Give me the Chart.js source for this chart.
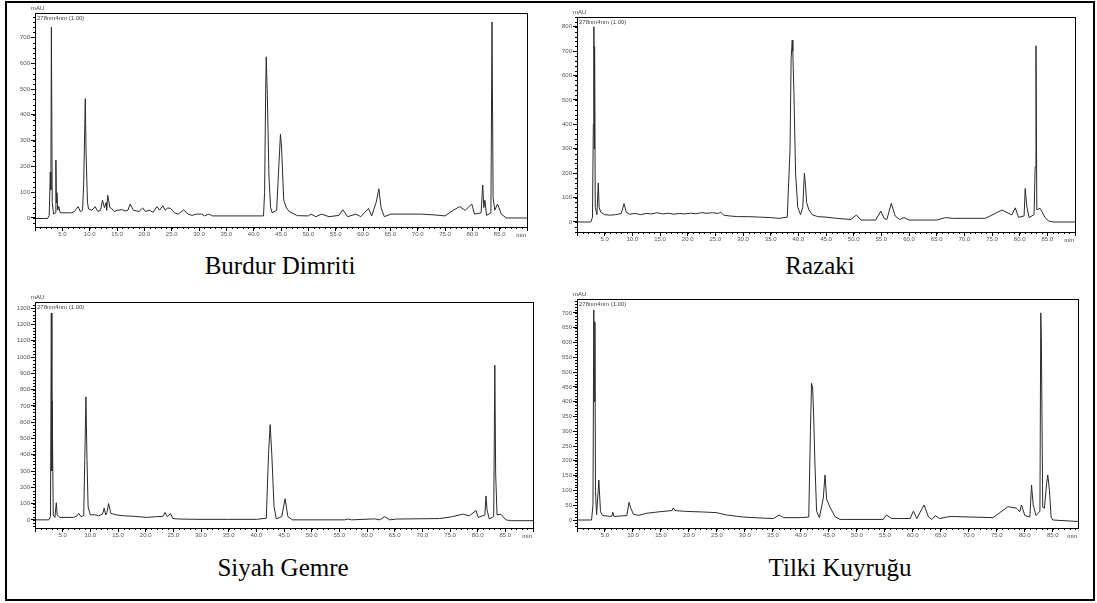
<!DOCTYPE html>
<html>
<head>
<meta charset="utf-8">
<script src="https://cdn.jsdelivr.net/npm/chart.js@4.4.1/dist/chart.umd.min.js"></script>
<style>
  body { margin: 0; background: #fff; width: 1097px; height: 603px; position: relative; overflow: hidden; }
  .frame { position: absolute; left: 5px; top: 1px; width: 1086px; height: 596px; border: 2px solid #000; }
  canvas { position: absolute; }
  .title { position: absolute; font-family: "Liberation Serif", "Times New Roman", serif; font-size: 25px; color: #000; text-align: center; width: 400px; }
</style>
</head>
<body>
<div class="frame"></div>
<canvas id="c1" style="left:0;top:0"></canvas>
<canvas id="c2" style="left:545px;top:0"></canvas>
<canvas id="c3" style="left:0;top:285px"></canvas>
<canvas id="c4" style="left:545px;top:280px"></canvas>
<div class="title" style="left:80px;top:252px">Burdur Dimriti</div>
<div class="title" style="left:620px;top:252px">Razaki</div>
<div class="title" style="left:83px;top:554px">Siyah Gemre</div>
<div class="title" style="left:640px;top:554px">Tilki Kuyruğu</div>
<script>
// retention time (min) / absorbance (mAU)
const burdurTimes = [0, 2.3, 2.6, 2.8, 2.9, 3.0, 3.15, 3.4, 3.7, 3.82, 3.92, 4.02, 4.15, 4.35, 4.6, 6.7, 7.2, 7.9, 8.3, 8.7, 8.9, 9.2, 9.35, 9.6, 9.8, 10.4, 11.0, 11.5, 12.0, 12.35, 12.7, 13.0, 13.1, 13.3, 13.7, 14.0, 14.5, 15.0, 16.0, 16.5, 17.0, 17.4, 18.0, 19.0, 19.7, 20.2, 21.0, 21.6, 22.3, 22.8, 23.4, 23.8, 24.3, 24.8, 25.5, 26.2, 27.2, 28.0, 28.7, 29.5, 30.5, 31.0, 31.8, 32.5, 41.8, 42.0, 42.2, 42.3, 42.5, 42.8, 43.1, 43.4, 44.2, 44.6, 44.9, 45.1, 45.5, 46.0, 46.5, 48.0, 50.0, 50.5, 51.4, 52.4, 53.8, 55.6, 56.3, 57.2, 58.7, 59.6, 61.0, 61.6, 62.4, 62.9, 63.3, 63.9, 65.1, 70.6, 73.0, 75.0, 76.5, 77.7, 78.7, 79.9, 80.4, 81.6, 81.9, 82.1, 82.3, 82.6, 83.4, 83.6, 83.8, 84.1, 84.6, 85.3, 86.2, 90];
const burdurValues = [-2, -2, 10, 178, 110, 740, 60, 15, 20, 225, 60, 98, 30, 45, 20, 20, 25, 44, 25, 30, 128, 463, 245, 60, 35, 30, 44, 25, 30, 69, 40, 59, 30, 88, 40, 37, 25, 30, 32, 27, 30, 54, 30, 25, 39, 25, 30, 22, 44, 30, 47, 30, 39, 37, 20, 15, 31, 15, 10, 15, 15, 8, 15, 8, 8, 100, 500, 625, 475, 158, 40, 20, 30, 200, 325, 275, 69, 39, 25, 9, 8, 15, 5, 15, 5, 10, 32, 5, 15, 5, 37, 8, 60, 113, 40, 5, 15, 15, 12, 8, 30, 44, 30, 54, 15, 20, 128, 40, 69, 10, 20, 760, 79, 30, 54, 15, 0, 0];

const razakiTimes = [0, 2.5, 2.8, 2.95, 3.05, 3.12, 3.18, 3.3, 3.6, 3.85, 4.0, 4.3, 5.0, 6.0, 7.0, 8.0, 8.5, 8.9, 9.5, 10.5, 11.5, 12.5, 13.5, 14.5, 15.5, 16.5, 17.5, 18.5, 19.5, 20.5, 21.5, 22.5, 23.5, 24.5, 25.5, 26.0, 26.5, 27.5, 29.0, 31.0, 33.0, 35.0, 36.5, 38.0, 38.5, 38.7, 38.9, 39.0, 39.2, 39.5, 39.9, 40.4, 40.8, 41.1, 41.3, 41.5, 41.9, 42.5, 43.5, 45.0, 47.0, 49.5, 50.5, 51.3, 54.0, 54.9, 55.5, 56.0, 56.8, 57.5, 58.3, 59.1, 60.0, 65.0, 66.6, 68.0, 73.8, 76.8, 78.6, 79.2, 79.8, 80.8, 81.0, 81.3, 81.7, 82.6, 82.8, 82.95, 83.1, 83.7, 84.6, 85.2, 86.0, 90];
const razakiValues = [0, 0, 20, 400, 800, 300, 720, 60, 30, 160, 60, 40, 30, 28, 30, 35, 75, 40, 32, 35, 30, 35, 33, 38, 33, 36, 32, 35, 33, 36, 34, 38, 36, 38, 35, 40, 28, 25, 22, 22, 20, 18, 15, 20, 300, 670, 745, 700, 530, 200, 60, 30, 60, 200, 150, 80, 50, 30, 22, 20, 15, 10, 29, 8, 8, 45, 15, 10, 76, 25, 10, 18, 8, 8, 18, 15, 15, 49, 29, 58, 19, 25, 137, 62, 18, 30, 226, 722, 50, 56, 18, 5, 0, 0];

const siyahTimes = [0, 2.5, 2.8, 2.95, 3.05, 3.1, 3.3, 3.6, 3.85, 4.0, 4.5, 7.0, 7.6, 7.9, 8.3, 8.8, 9.0, 9.2, 9.4, 9.6, 10.0, 10.7, 11.5, 12.2, 12.5, 12.8, 13.0, 13.3, 13.7, 14.8, 16.0, 17.8, 20.2, 22.0, 23.1, 23.5, 23.9, 24.5, 24.9, 26.0, 30.0, 35.0, 40.0, 41.8, 42.2, 42.5, 42.8, 43.2, 43.6, 44.6, 45.2, 45.7, 46.5, 56.0, 56.6, 57.2, 61.4, 62.3, 63.2, 64.1, 65.3, 73.1, 75.5, 77.3, 78.5, 79.7, 80.1, 81.3, 81.5, 81.7, 82.1, 82.9, 83.1, 83.25, 83.5, 84.2, 85.1, 86.0, 90];
const siyahValues = [0, 0, 20, 1270, 300, 730, 30, 15, 105, 30, 15, 15, 25, 40, 20, 25, 370, 755, 370, 80, 30, 32, 25, 35, 72, 30, 45, 100, 40, 30, 25, 22, 15, 20, 20, 45, 20, 38, 8, 5, 3, 3, 3, 10, 400, 585, 400, 80, 6, 20, 130, 20, 0, 0, 5, 0, 6, 0, 20, 0, 5, 8, 20, 35, 25, 57, 15, 30, 147, 60, 5, 20, 950, 286, 30, 35, 0, -5, -5];

const tilkiTimes = [0, 2.6, 2.85, 3.0, 3.1, 3.2, 3.3, 3.5, 3.9, 4.2, 4.6, 6.2, 6.4, 6.6, 8.9, 9.3, 9.6, 10.1, 11.0, 12.5, 14.8, 17.0, 17.2, 17.5, 19.6, 22.6, 24.9, 26.7, 29.7, 32.7, 35.1, 36.1, 36.9, 39.9, 41.4, 41.7, 41.9, 42.1, 42.3, 42.5, 42.8, 43.3, 44.0, 44.3, 44.6, 45.2, 46.1, 47.0, 54.7, 55.3, 56.2, 59.5, 60.1, 60.7, 62.0, 62.8, 63.4, 64.0, 64.8, 66.6, 74.3, 77.0, 78.5, 79.1, 79.4, 80.0, 80.9, 81.2, 81.5, 82.0, 82.7, 82.85, 82.95, 83.2, 83.5, 83.9, 84.1, 84.4, 84.7, 85.0, 89.5];
const tilkiValues = [0, 0, 50, 710, 400, 670, 96, 17, 135, 28, 15, 12, 26, 12, 15, 60, 40, 19, 16, 23, 28, 32, 41, 32, 29, 27, 25, 17, 10, 7, 5, 17, 8, 8, 10, 300, 462, 446, 338, 193, 30, 8, 74, 152, 70, 43, 11, 2, 2, 17, 5, 5, 30, 5, 51, 10, 2, 15, 5, 12, 8, 45, 40, 28, 51, 15, 10, 118, 51, 15, 30, 700, 620, 43, 40, 124, 152, 100, 10, 0, -5];

const channelLabel = '278nm4nm (1.00)';

// box round the plot, minor ticks and the small instrument labels
const chromFrame = {
    id: 'chromFrame',
    afterDraw(chart, args, opts) {
        const { ctx, chartArea: a, scales: { x, y } } = chart;
        ctx.save();
        ctx.strokeStyle = '#000';
        ctx.lineWidth = 1;
        ctx.strokeRect(a.left + 0.5, a.top + 0.5, a.right - a.left, a.bottom - a.top);

        ctx.beginPath();
        for (let v = 1; v < x.max; v += 1) {
            const px = Math.round(x.getPixelForValue(v)) + 0.5;
            ctx.moveTo(px, a.bottom);
            ctx.lineTo(px, a.bottom + 2);
        }
        const first = Math.ceil(y.min / opts.minor) * opts.minor;
        for (let v = first; v <= y.max; v += opts.minor) {
            const py = Math.round(y.getPixelForValue(v)) + 0.5;
            ctx.moveTo(a.left, py);
            ctx.lineTo(a.left - 2, py);
        }
        ctx.stroke();

        ctx.fillStyle = '#444';
        ctx.font = '6px "Liberation Sans", Arial, sans-serif';
        ctx.textBaseline = 'alphabetic';
        ctx.fillText('mAU', a.left - 4, a.top - 3);
        ctx.fillText(channelLabel, a.left + 2, a.top + 7);
        ctx.textAlign = 'right';
        ctx.fillText('min', a.right - 1, a.bottom + 10);
        ctx.restore();
    }
};

function buildChromatogram(canvas, times, values, box) {
    canvas.width = box.width;
    canvas.height = box.height;
    canvas.style.width = box.width + 'px';
    canvas.style.height = box.height + 'px';

    const points = times.map((t, i) => ({ x: t, y: values[i] }));

    new Chart(canvas, {
        type: 'line',
        data: {
            datasets: [{
                data: points,
                borderColor: '#2a2a2a',
                borderWidth: 1,
                pointRadius: 0,
                tension: 0,
                fill: false,
            }],
        },
        options: {
            responsive: false,
            animation: false,
            events: [],
            layout: {
                padding: { top: box.top, right: box.right, left: 0, bottom: 0 },
            },
            plugins: {
                legend: { display: false },
                tooltip: { enabled: false },
                chromFrame: { minor: box.minor },
            },
            scales: {
                x: {
                    type: 'linear',
                    min: 0,
                    max: box.xMax,
                    afterFit: (scale) => { scale.height = box.xHeight; },
                    border: { color: '#000', width: 1 },
                    grid: { drawOnChartArea: false, tickLength: 4, tickColor: '#000' },
                    ticks: {
                        stepSize: 5,
                        includeBounds: false,
                        autoSkip: false,
                        maxRotation: 0,
                        padding: 0,
                        color: '#555',
                        font: { size: 6, family: '"Liberation Sans", Arial, sans-serif' },
                        callback: (v) => (v === 0 || v >= 89) ? '' : v.toFixed(1),
                    },
                },
                y: {
                    min: box.yMin,
                    max: box.yMax,
                    afterFit: (scale) => { scale.width = box.yWidth; },
                    border: { color: '#000', width: 1 },
                    grid: { drawOnChartArea: false, tickLength: 4, tickColor: '#000' },
                    ticks: {
                        stepSize: box.step,
                        includeBounds: false,
                        maxTicksLimit: 50,
                        autoSkip: false,
                        padding: 1,
                        color: '#555',
                        font: { size: 6, family: '"Liberation Sans", Arial, sans-serif' },
                        callback: (v) => String(Math.round(v)),
                    },
                },
            },
        },
        plugins: [chromFrame],
    });
}

buildChromatogram(document.getElementById('c1'), burdurTimes, burdurValues,
    { width: 545, height: 245, top: 13, right: 18, yWidth: 35, xHeight: 18, xMax: 90, yMin: -35, yMax: 795, step: 100, minor: 20 });
buildChromatogram(document.getElementById('c2'), razakiTimes, razakiValues,
    { width: 552, height: 250, top: 17, right: 22, yWidth: 32, xHeight: 18, xMax: 90, yMin: -41, yMax: 840, step: 100, minor: 20 });
buildChromatogram(document.getElementById('c3'), siyahTimes, siyahValues,
    { width: 545, height: 260, top: 17, right: 12, yWidth: 35, xHeight: 17, xMax: 90, yMin: -50, yMax: 1338, step: 100, minor: 20 });
buildChromatogram(document.getElementById('c4'), tilkiTimes, tilkiValues,
    { width: 552, height: 265, top: 19, right: 19, yWidth: 32, xHeight: 17, xMax: 89.5, yMin: -27, yMax: 747, step: 50, minor: 10 });
</script>
</body>
</html>
